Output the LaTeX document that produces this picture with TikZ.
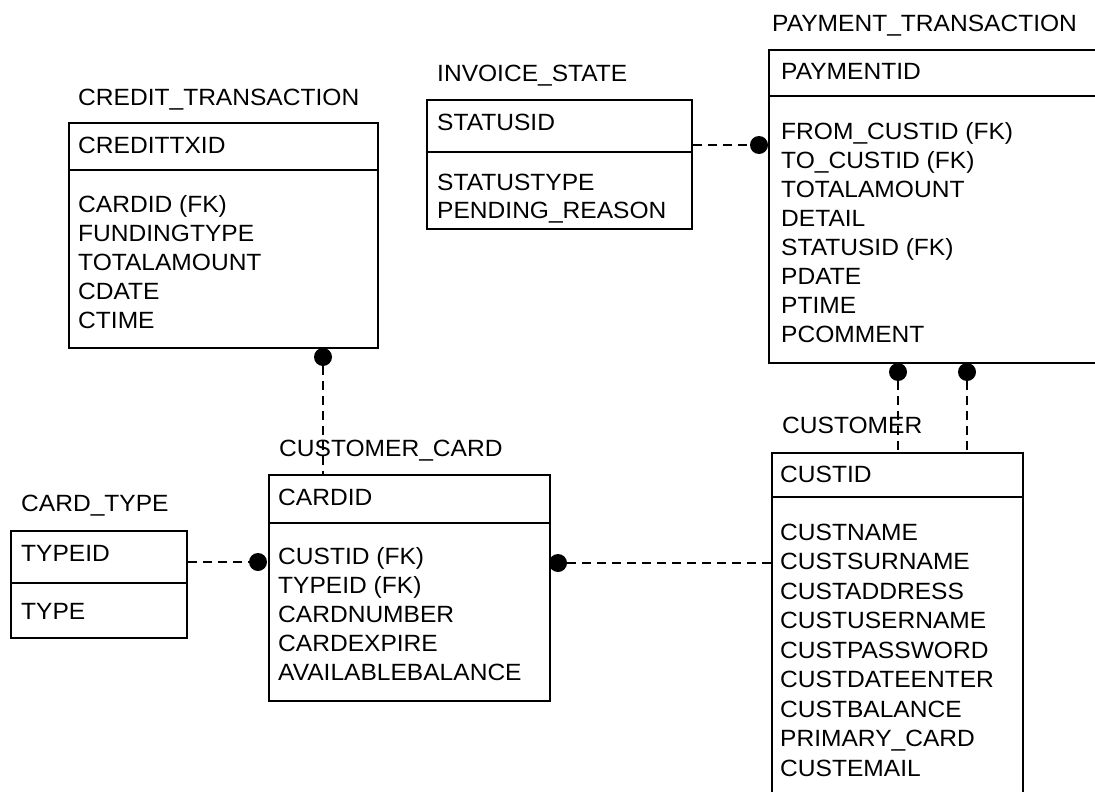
\documentclass[tikz,border=0pt]{standalone}
\usepackage{fontspec}
\setmainfont{Liberation Sans}[FakeStretch=1.045]
\begin{document}
\begin{tikzpicture}[x=1pt,y=-1pt,
  ent/.style={draw, line width=1.8pt, rectangle, inner sep=0pt, anchor=north west},
  txt/.style={anchor=west, inner sep=0pt, text height=16.5pt, text depth=0pt, font=\fontsize{23.5}{28}\selectfont},
  rel/.style={draw, line width=2.6pt, dash pattern=on 9pt off 6pt},
  dot/.style={circle, fill=black, inner sep=0pt, minimum size=18pt},
  div/.style={line width=1.8pt}]
\useasboundingbox (0,0) rectangle (1095,792);
\fill[white] (0,0) rectangle (1095,792);
\clip (0,0) rectangle (1095,792);

% CREDIT_TRANSACTION
\node[ent, minimum width=309pt, minimum height=225pt] (ct) at (68,122) {};
\node[txt] (ct-t) at (78,97) {CREDIT\_TRANSACTION};
\node[txt] (ct-pk) at (78,145) {CREDITTXID};
\draw[div] (ct.west |- 0,170) -- (ct.east |- 0,170);
\foreach \t [count=\i] in {CARDID (FK),FUNDINGTYPE,TOTALAMOUNT,CDATE,CTIME}
  \node[txt] (ct-\i) at (78,{204+29*(\i-1)}) {\t};

% INVOICE_STATE
\node[ent, minimum width=265pt, minimum height=129pt] (is) at (426,99) {};
\node[txt] (is-t) at (437,73) {INVOICE\_STATE};
\node[txt] (is-pk) at (437,122) {STATUSID};
\draw[div] (is.west |- 0,152) -- (is.east |- 0,152);
\foreach \t [count=\i] in {STATUSTYPE,PENDING\_REASON}
  \node[txt] (is-\i) at (437,{182+28.5*(\i-1)}) {\t};

% PAYMENT_TRANSACTION
\node[ent, minimum width=345pt, minimum height=313pt] (pt) at (768,49) {};
\node[txt] (pt-t) at (772,23) {PAYMENT\_TRANSACTION};
\node[txt] (pt-pk) at (781,71) {PAYMENTID};
\draw[div] (pt.west |- 0,96) -- (pt.east |- 0,96);
\foreach \t [count=\i] in {FROM\_CUSTID (FK),TO\_CUSTID (FK),TOTALAMOUNT,DETAIL,STATUSID (FK),PDATE,PTIME,PCOMMENT}
  \node[txt] (pt-\i) at (781,{131+29*(\i-1)}) {\t};

% CARD_TYPE
\node[ent, minimum width=176pt, minimum height=107pt] (ty) at (10,530) {};
\node[txt] (ty-t) at (21,503) {CARD\_TYPE};
\node[txt] (ty-pk) at (21,553) {TYPEID};
\draw[div] (ty.west |- 0,583) -- (ty.east |- 0,583);
\node[txt] (ty-1) at (21,611) {TYPE};

% CUSTOMER_CARD
\node[ent, minimum width=281pt, minimum height=226pt] (cc) at (268,474) {};
\node[txt] (cc-t) at (279,448) {CUSTOMER\_CARD};
\node[txt] (cc-pk) at (278,497) {CARDID};
\draw[div] (cc.west |- 0,523) -- (cc.east |- 0,523);
\foreach \t [count=\i] in {CUSTID (FK),TYPEID (FK),CARDNUMBER,CARDEXPIRE,AVAILABLEBALANCE}
  \node[txt] (cc-\i) at (278,{556+29*(\i-1)}) {\t};

% CUSTOMER
\node[ent, minimum width=251pt, minimum height=360pt] (cu) at (771,452) {};
\node[txt] (cu-t) at (782,425) {CUSTOMER};
\node[txt] (cu-pk) at (780,474) {CUSTID};
\draw[div] (cu.west |- 0,497) -- (cu.east |- 0,497);
\foreach \t [count=\i] in {CUSTNAME,CUSTSURNAME,CUSTADDRESS,CUSTUSERNAME,CUSTPASSWORD,CUSTDATEENTER,CUSTBALANCE,PRIMARY\_CARD,CUSTEMAIL}
  \node[txt] (cu-\i) at (780,{532+29.5*(\i-1)}) {\t};

% relationship dots
\node[dot] (ctd) at (323,357) {};
\node[dot] (isd) at (759,145) {};
\node[dot] (tyd) at (258,562) {};
\node[dot] (ccd) at (558,563) {};
\node[dot] (pd1) at (898,372) {};
\node[dot] (pd2) at (967,372) {};

% connectors
\draw[rel] (ctd) -- (cc.north -| ctd);
\draw[rel] (is.east |- isd) -- (isd);
\draw[rel] (ty.east |- tyd) -- (tyd);
\draw[rel] (ccd) -- (cu.west |- ccd);
\draw[rel] (pd1) -- (cu.north -| pd1);
\draw[rel] (pd2) -- (cu.north -| pd2);
\end{tikzpicture}
\end{document}
